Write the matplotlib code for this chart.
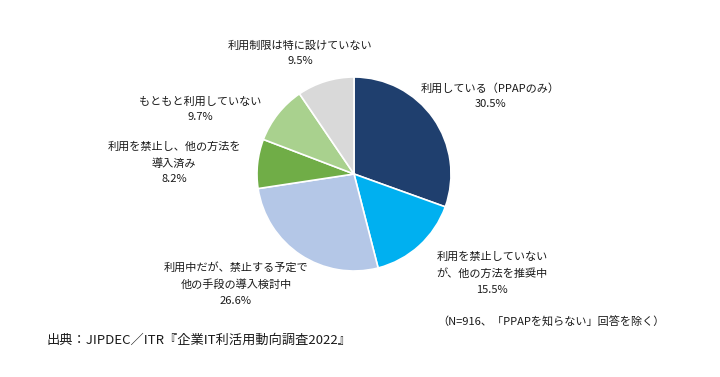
import matplotlib
matplotlib.use('Agg')
import matplotlib.pyplot as plt

plt.rcParams['font.family'] = ['Noto Sans CJK JP', 'DejaVu Sans']

# data (clockwise from 12 o'clock)
labels = ['利用している（PPAPのみ）',
          '利用を禁止していない\nが、他の方法を推奨中',
          '利用中だが、禁止する予定で\n他の手段の導入検討中',
          '利用を禁止し、他の方法を\n導入済み',
          'もともと利用していない',
          '利用制限は特に設けていない']
values = [30.5, 15.5, 26.6, 8.2, 9.7, 9.5]
colors = ['#1F3F6E', '#00B0F0', '#B4C7E7', '#70AD47', '#A9D18E', '#D9D9D9']
# label anchor positions in pixel coords (x, y from top)
label_pos = [(490, 96), (492, 273), (236, 284), (174, 163), (200, 109), (300, 53)]

W, H = 720, 377
fig = plt.figure(figsize=(W / 100, H / 100), dpi=100)
ax = fig.add_axes([0, 0, 1, 1])

cx, cy, r = 354, 174, 97
ax.pie(values, colors=colors, startangle=90, counterclock=False,
       center=(cx, H - cy), radius=r,
       wedgeprops=dict(edgecolor='white', linewidth=1.2))
ax.set_xlim(0, W)
ax.set_ylim(0, H)
ax.set_aspect('equal')
ax.axis('off')

for lab, v, (x, y) in zip(labels, values, label_pos):
    ax.text(x, H - y, f'{lab}\n{v:.1f}%', ha='center', va='center',
            fontsize=8, color='#1a1a1a', linespacing=1.7)

ax.text(437, H - 322, '（N=916、「PPAPを知らない」回答を除く）', ha='left', va='center',
        fontsize=8, color='#1a1a1a')
ax.text(46, H - 340, '出典：JIPDEC／ITR『企業IT利活用動向調査2022』', ha='left', va='center',
        fontsize=9.5, color='#1a1a1a')

fig.savefig('out.png', dpi=100)
